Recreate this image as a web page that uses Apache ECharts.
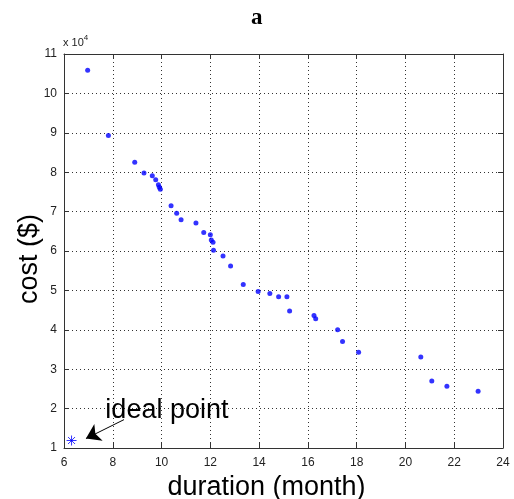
<!DOCTYPE html>
<html>
<head>
<meta charset="utf-8">
<script src="https://cdn.jsdelivr.net/npm/echarts@6/dist/echarts.min.js"></script>
<style>
  html, body { margin: 0; padding: 0; background: #fff; }
  #chart { width: 514px; height: 499px; }
</style>
</head>
<body>
<div id="chart"></div>
<script>
// --- 数据 ---
const durations = [6.97, 7.82, 8.90, 9.28, 9.62, 9.76, 9.87, 9.91, 9.95,
  10.39, 10.62, 10.80, 11.41, 11.73, 12.00, 12.04, 12.11, 12.13, 12.52, 12.83,
  13.35, 13.96, 14.44, 14.80, 15.14, 15.25, 16.25, 16.32, 17.22, 17.42, 18.08,
  20.63, 21.08, 21.70, 22.98];
const costs = [105900, 89300, 82500, 79800, 79100, 78100, 76800, 76200, 75700,
  71500, 69600, 67900, 67100, 64700, 64100, 62800, 62200, 60200, 58700, 56200,
  51500, 49700, 49200, 48400, 48400, 44800, 43600, 42800, 40000, 37000, 34300,
  33100, 27000, 25700, 24400];
const idealPoint = [6.31, 11900];
const arrowFrom = [8.46, 17200];
const arrowTo = [6.90, 12400];
const labelAt = [10.22, 19600];
const xTicks = { min: 6, max: 24, step: 2 };
const yTicks = { min: 10000, max: 110000, step: 10000 };

const chart = echarts.init(document.getElementById('chart'));
const FONT = 'Liberation Sans, Arial, sans-serif';

const points = durations.map((d, i) => [d, costs[i]]);
const starPath = 'path://M0,-5L0,5M-5,0L5,0M-3.5,-3.5L3.5,3.5M-3.5,3.5L3.5,-3.5';

const tickLabel = { color: '#222', fontSize: 12, fontFamily: FONT };
const gridLine = { show: true, lineStyle: { type: [1, 3], color: '#333', width: 1 } };
const axisLine = { show: true, onZero: false, lineStyle: { color: '#333', width: 1 } };
const tickIn = { show: true, inside: true, length: 5, lineStyle: { color: '#333' } };

chart.setOption({
  animation: false,
  backgroundColor: '#fff',
  title: {
    text: 'a', left: 246, top: 2,
    textStyle: { fontFamily: 'Liberation Serif, Times New Roman, serif', fontWeight: 'bold', fontSize: 23, color: '#000' }
  },
  grid: { left: 64, top: 54, right: 11, bottom: 51, containLabel: false, outerBoundsMode: 'none' },
  xAxis: [
    {
      type: 'value', min: xTicks.min, max: xTicks.max, interval: xTicks.step,
      position: 'bottom',
      name: 'duration (month)', nameLocation: 'middle', nameGap: 22,
      nameTextStyle: { fontFamily: FONT, fontSize: 27, color: '#000', padding: [0, 34, 0, 0] },
      axisLine, axisTick: tickIn, axisLabel: { ...tickLabel, margin: 9 },
      splitLine: gridLine
    },
    {
      type: 'value', min: xTicks.min, max: xTicks.max, interval: xTicks.step,
      position: 'top', axisLine, axisTick: tickIn,
      axisLabel: { show: false }, splitLine: { show: false }
    }
  ],
  yAxis: [
    {
      type: 'value', min: yTicks.min, max: yTicks.max, interval: yTicks.step,
      position: 'left',
      name: '{a|x 10}{b|4}', nameLocation: 'end', nameGap: 6,
      nameTextStyle: {
        align: 'left', padding: [0, 0, 0, -1],
        rich: {
          a: { fontFamily: FONT, fontSize: 11, color: '#222', verticalAlign: 'bottom' },
          b: { fontFamily: FONT, fontSize: 8, color: '#222', verticalAlign: 'top', padding: [0, 0, 6, 0] }
        }
      },
      axisLine, axisTick: tickIn,
      axisLabel: { ...tickLabel, margin: 7, formatter: v => String(v / 10000) },
      splitLine: gridLine
    },
    {
      type: 'value', min: yTicks.min, max: yTicks.max, interval: yTicks.step,
      position: 'right', axisLine, axisTick: tickIn,
      axisLabel: { show: false }, splitLine: { show: false }
    }
  ],
  graphic: [{
    type: 'text', left: 16, top: 214, rotation: Math.PI / 2,
    style: { text: 'cost ($)', font: '27px ' + FONT, fill: '#000' }
  }],
  series: [
    {
      name: 'pareto', type: 'scatter', data: points,
      symbol: 'circle', symbolSize: 5,
      itemStyle: { color: '#0000ff' }
    },
    {
      name: 'ideal', type: 'scatter', data: [idealPoint],
      symbol: starPath, symbolSize: 10,
      itemStyle: { color: 'none', borderColor: '#0000ff', borderWidth: 1 },
      markLine: {
        silent: true, symbol: ['none', 'arrow'], symbolSize: 14,
        lineStyle: { color: '#000', width: 1, type: 'solid' },
        label: { show: false },
        data: [[{ coord: arrowFrom }, { coord: arrowTo }]]
      },
      markPoint: {
        silent: true, symbol: 'rect', symbolSize: 1,
        itemStyle: { color: 'transparent' },
        label: { show: true, position: 'inside', formatter: 'ideal point', fontFamily: FONT, fontSize: 27, color: '#000' },
        data: [{ coord: labelAt }]
      }
    }
  ]
});

window.addEventListener('resize', () => chart.resize());
</script>
</body>
</html>
